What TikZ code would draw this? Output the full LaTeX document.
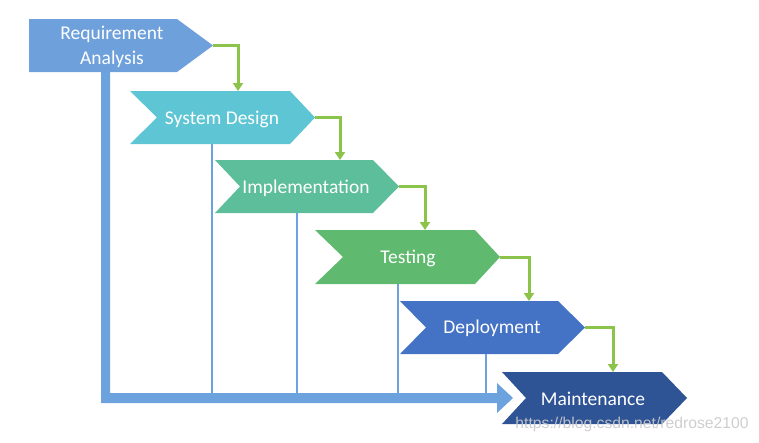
\documentclass[tikz,border=0pt]{standalone}
\usepackage{fontspec}
\setmainfont{Carlito}
\newfontfamily\wmfont{Liberation Sans}
\usetikzlibrary{arrows.meta}
\definecolor{cRA}{HTML}{6EA0DC}
\definecolor{cSD}{HTML}{5EC5D4}
\definecolor{cIM}{HTML}{5DBE9B}
\definecolor{cTE}{HTML}{5FB96E}
\definecolor{cDE}{HTML}{4472C4}
\definecolor{cMA}{HTML}{2F5496}
\definecolor{cGR}{HTML}{8CC34A}
\definecolor{cBAR}{HTML}{6CA2DE}
\definecolor{cWM}{HTML}{C9C9C9}
\tikzset{
  lbl/.style={text=white, font=\fontsize{19.5}{25}\selectfont, inner sep=0pt, align=center},
  conn/.style={draw=cGR, line width=3pt, -{Triangle[width=10pt,length=8pt]}},
  drop/.style={draw=cBAR, line width=2pt},
}
% \mychev{fill}{left}{notch}{rightstart}{tip}{top}{bottom}
\newcommand{\mychev}[7]{%
  \fill[#1] (#2,#6) -- (#4,#6) -- (#5,{(#6+#7)/2}) -- (#4,#7) -- (#2,#7) -- (#3,{(#6+#7)/2}) -- cycle;}
\begin{document}
\begin{tikzpicture}[x=1pt,y=-1pt]
\useasboundingbox (0,0) rectangle (759,442);
% big bar with arrow
\fill[cBAR] (101,70) -- (110,70) -- (110,393) -- (497,393) -- (497,383) -- (513,398) -- (497,413) -- (497,403) -- (101,403) -- cycle;
% shapes
\mychev{cRA}{29}{29}{177}{213}{19}{72}
\mychev{cSD}{130}{157}{290}{315}{91}{144}
\mychev{cIM}{215}{240}{373}{399}{160}{213}
\mychev{cTE}{315}{343}{475}{500}{230}{284}
\mychev{cDE}{400}{426}{558}{585}{301}{354}
\mychev{cMA}{502}{526}{662}{687}{372}{424}
% labels
\node[lbl] (ra) at (112,47) {Requirement\\Analysis};
\node[lbl] (sd) at (222,119) {System Design};
\node[lbl] (im) at (306,188) {Implementation};
\node[lbl] (te) at (408,258) {Testing};
\node[lbl] (de) at (492,328.5) {Deployment};
\node[lbl] (ma) at (593,399) {Maintenance};
% coordinates
\coordinate (raTip) at (213,45.5);
\coordinate (sdTop) at (238,91);
\coordinate (sdTip) at (315,117.5);
\coordinate (imTop) at (340,160);
\coordinate (imTip) at (399,186.5);
\coordinate (teTop) at (425,230);
\coordinate (teTip) at (500,257);
\coordinate (deTop) at (529,301);
\coordinate (deTip) at (585,327.5);
\coordinate (maTop) at (613,372);
\coordinate (sdBot) at (212,144);
\coordinate (imBot) at (297,213);
\coordinate (teBot) at (398,284);
\coordinate (deBot) at (486,354);
% green connectors
\draw[conn] (raTip) -| (sdTop);
\draw[conn] (sdTip) -| (imTop);
\draw[conn] (imTip) -| (teTop);
\draw[conn] (teTip) -| (deTop);
\draw[conn] (deTip) -| (maTop);
% drop lines
\draw[drop] (sdBot) -- (sdBot |- 0,394);
\draw[drop] (imBot) -- (imBot |- 0,394);
\draw[drop] (teBot) -- (teBot |- 0,394);
\draw[drop] (deBot) -- (deBot |- 0,394);
% watermark
\node[text=cWM, font=\wmfont\fontsize{15.7}{18}\selectfont, inner sep=0pt, opacity=0.9] (wm) at (632,424) {https://blog.csdn.net/redrose2100};
\end{tikzpicture}
\end{document}
